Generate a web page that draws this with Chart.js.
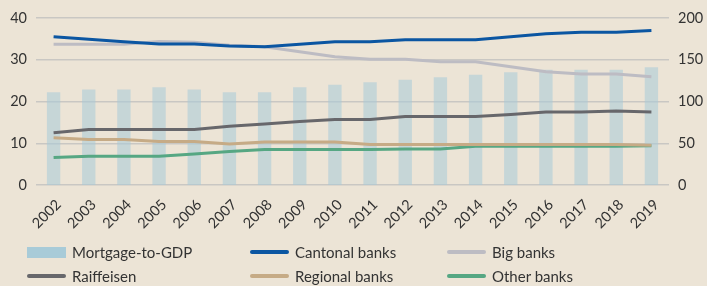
<!DOCTYPE html>
<html>
<head>
<meta charset="utf-8">
<script src="https://cdn.jsdelivr.net/npm/chart.js@4/dist/chart.umd.min.js"></script>
<style>
  html, body { margin: 0; padding: 0; background: #ece4d6; }
  #wrap { position: relative; width: 707px; height: 286px; font-family: Lato, "Open Sans", sans-serif; }
  #legend { position: absolute; left: 0; top: 0; width: 707px; height: 286px; pointer-events: none; }
  .item { position: absolute; display: flex; align-items: center; font-size: 15px; color: #333; white-space: nowrap; }
  .sw { display: inline-block; width: 39px; margin-right: 6px; }
</style>
</head>
<body>
<div id="wrap">
  <canvas id="chart" width="707" height="286"></canvas>
  <div id="legend"></div>
</div>
<script>
// years on the x axis
const years = ['2002','2003','2004','2005','2006','2007','2008','2009','2010','2011','2012','2013','2014','2015','2016','2017','2018','2019'];

// mortgage-to-GDP, right axis (%)
const mortgageToGdp = [111, 114.5, 114.5, 117, 114.5, 111, 111, 117, 120, 123, 126, 129, 132, 135, 138, 138, 138, 141];

// market shares, left axis (%)
const cantonal   = [35.5, 34.9, 34.3, 33.8, 33.8, 33.3, 33.1, 33.7, 34.3, 34.3, 34.8, 34.8, 34.8, 35.5, 36.2, 36.6, 36.6, 37.0];
const bigBanks   = [33.7, 33.7, 33.7, 34.4, 34.2, 33.5, 33.1, 31.9, 30.7, 30.1, 30.1, 29.5, 29.5, 28.3, 27.1, 26.6, 26.6, 25.9];
const raiffeisen = [12.5, 13.3, 13.3, 13.3, 13.3, 14.1, 14.6, 15.2, 15.7, 15.7, 16.4, 16.4, 16.4, 16.9, 17.5, 17.5, 17.7, 17.5];
const regional   = [11.3, 10.9, 10.9, 10.4, 10.4, 9.8, 10.3, 10.3, 10.3, 9.7, 9.7, 9.7, 9.7, 9.7, 9.7, 9.7, 9.7, 9.5];
const otherBanks = [6.6, 6.9, 6.9, 6.9, 7.4, 8.0, 8.5, 8.5, 8.5, 8.5, 8.6, 8.6, 9.3, 9.3, 9.3, 9.3, 9.3, 9.4];

const leftTicks = [0, 10, 20, 30, 40];
const rightTicks = [0, 50, 100, 150, 200];

const tickFont = { family: 'Lato, "Open Sans", sans-serif', size: 14.5 };
const tickColor = '#333333';
const gridColor = '#c9c7c3';

function line(label, data, color) {
  return { type: 'line', label: label, data: data, yAxisID: 'y', borderColor: color, backgroundColor: color,
           borderWidth: 3, pointRadius: 0, tension: 0, order: 1 };
}

const datasets = [
  { type: 'bar', label: 'Mortgage-to-GDP', data: mortgageToGdp, yAxisID: 'y2',
    backgroundColor: 'rgba(168,203,216,0.55)', barPercentage: 0.38, categoryPercentage: 1, order: 10 },
  line('Cantonal banks', cantonal, '#0b56a2'),
  line('Big banks', bigBanks, '#bdbcc3'),
  line('Raiffeisen', raiffeisen, '#67676b'),
  line('Regional banks', regional, '#c6ab86'),
  line('Other banks', otherBanks, '#56a783')
];
// draw order so cantonal ends on top
datasets[2].order = 5; datasets[1].order = 1;

const ctx = document.getElementById('chart').getContext('2d');
const chart = new Chart(ctx, {
  data: { labels: years, datasets: datasets },
  options: {
    responsive: false,
    animation: false,
    layout: { padding: { top: 18, left: 0, right: 0, bottom: 0 } },
    plugins: { legend: { display: false }, tooltip: { enabled: false } },
    scales: {
      x: {
        offset: true,
        grid: { display: false, drawTicks: false },
        border: { display: false },
        ticks: { font: tickFont, color: tickColor, minRotation: 45, maxRotation: 45, padding: 11, labelOffset: 5, autoSkip: false },
        afterFit: s => { s.height = 101; }
      },
      y: {
        position: 'left', min: 0, max: 40,
        afterBuildTicks: s => { s.ticks = leftTicks.map(v => ({ value: v })); },
        grid: { color: gridColor, lineWidth: 1.5, drawTicks: false },
        border: { display: false },
        ticks: { font: tickFont, color: tickColor, padding: 9 },
        afterFit: s => { s.width = 36; }
      },
      y2: {
        position: 'right', min: 0, max: 200,
        afterBuildTicks: s => { s.ticks = rightTicks.map(v => ({ value: v })); },
        grid: { display: false, drawTicks: false },
        border: { display: false },
        ticks: { font: tickFont, color: tickColor, padding: 9 },
        afterFit: s => { s.width = 38; }
      }
    }
  }
});

// legend in three columns under the chart
const legendPos = [[27, 252], [250, 252], [447, 252], [27, 276], [250, 276], [447, 276]];
const legendEl = document.getElementById('legend');
datasets.forEach((ds, i) => {
  const item = document.createElement('div');
  item.className = 'item';
  item.style.left = legendPos[i][0] + 'px';
  item.style.top = (legendPos[i][1] - 10) + 'px';
  item.style.height = '20px';
  const sw = document.createElement('span');
  sw.className = 'sw';
  if (ds.type === 'bar') {
    sw.style.height = '11px';
    sw.style.background = '#a8cbd8';
  } else {
    sw.style.height = '3.5px';
    sw.style.borderRadius = '2px';
    sw.style.background = ds.borderColor;
  }
  item.appendChild(sw);
  item.appendChild(document.createTextNode(ds.label));
  legendEl.appendChild(item);
});
</script>
</body>
</html>
